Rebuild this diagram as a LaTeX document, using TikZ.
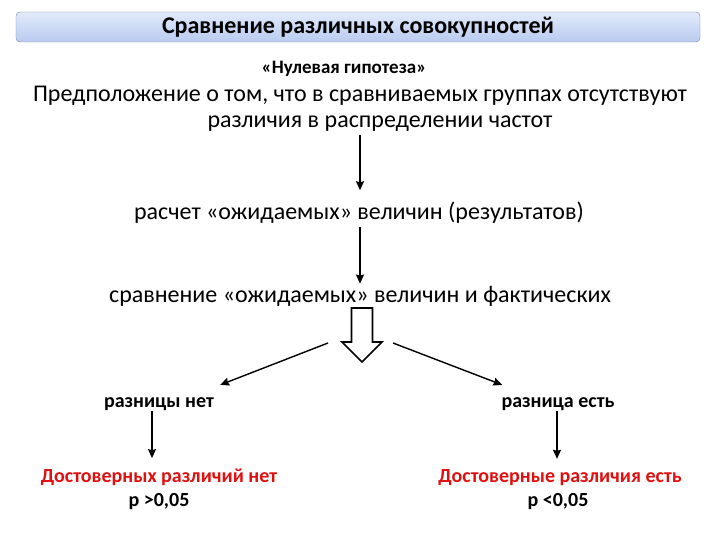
\documentclass[tikz,border=0pt]{standalone}
\usepackage{fontspec}
\setmainfont{Carlito}
\usepackage{xcolor}
\usepackage{tikz}
\usetikzlibrary{arrows.meta,positioning}
\definecolor{ttop}{HTML}{E2EAFB}
\definecolor{tbottom}{HTML}{B9CBF0}
\definecolor{tborder}{HTML}{7D8799}
\definecolor{resred}{HTML}{E01010}

\begin{document}
\begin{tikzpicture}[
  x=1pt, y=-1pt,
  titlebox/.style={rectangle, draw=tborder, top color=ttop, bottom color=tbottom,
              rounded corners=4pt, minimum width=684pt, minimum height=30pt,
              font=\fontsize{24}{28}\selectfont\bfseries},
  maintext/.style={font=\fontsize{24}{28}\selectfont, inner sep=1pt, anchor=base},
  boldtext/.style={font=\fontsize{20}{24}\selectfont\bfseries, inner sep=1pt, anchor=base},
  redtext/.style={boldtext, text=resred},
  arrow/.style={-{Stealth[length=9pt, width=8pt, inset=1pt]}, line width=1.4pt},
  blockarrow/.style={draw, line width=1.6pt, fill=white, line join=miter},
]
\useasboundingbox (0,0) rectangle (720,540);

% Header
\node[titlebox] (title) at (358,27) {Сравнение различных совокупностей};
\node[boldtext, font=\fontsize{19}{22}\selectfont\bfseries] (nullhyp) at (344,74) {«Нулевая гипотеза»};

% Hypothesis
\node[maintext] (hyp1) at (360,102) {Предположение о том, что в сравниваемых группах отсутствуют};
\node[maintext] (hyp2) at (380,128) {различия в распределении частот};

% Steps
\node[maintext] (expect) at (359,219) {расчет «ожидаемых» величин (результатов)};
\node[maintext] (compare) at (360,302) {сравнение «ожидаемых» величин и фактических};

\draw[arrow, shorten <=2pt, shorten >=10pt] (hyp2.south -| compare) -- (expect.north -| compare);
\draw[arrow, shorten <=3pt, shorten >=1pt] (expect.south -| compare) -- (compare.north);

% Big block arrow
\coordinate (bigtop) at (362,308);
\draw[blockarrow] ([xshift=-10.5pt]bigtop) -- ++(0,34) -- ++(-9.5,0) -- ++(20,20)
  -- ++(20,-20) -- ++(-9.5,0) -- ++(0,-34) -- cycle;

% Outcomes
\node[boldtext] (nodiff) at (159,407) {разницы нет};
\node[boldtext] (diff) at (558,407) {разница есть};

\draw[arrow] ([shift={(-34,35)}]bigtop) -- ([shift={(5,-11)}]nodiff.north east);
\draw[arrow] ([shift={(31,35)}]bigtop) -- ([shift={(2,-11)}]diff.north west);

% Conclusions
\node[redtext] (nosig) at (159,482) {Достоверных различий нет};
\node[boldtext] (pgt) at (159,506) {p >0,05};
\node[redtext] (sig) at (560,482) {Достоверные различия есть};
\node[boldtext] (plt) at (558,506) {p <0,05};

\draw[arrow, shorten >=9pt] ([xshift=-7pt]nodiff.south) -- ([xshift=-7pt]nodiff.south |- nosig.north);
\draw[arrow, shorten >=9pt] ([xshift=-1pt]diff.south) -- ([xshift=-1pt]diff.south |- sig.north);

\end{tikzpicture}
\end{document}
